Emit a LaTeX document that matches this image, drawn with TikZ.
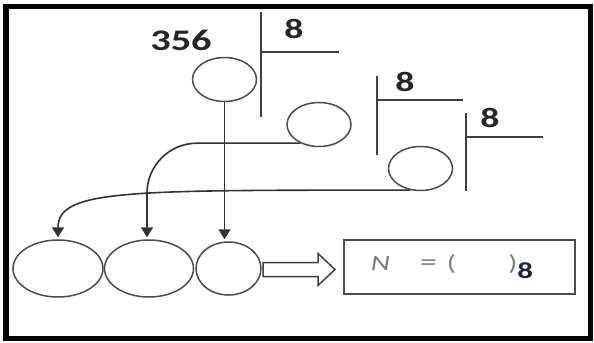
\documentclass[tikz,border=0pt]{standalone}
\usepackage{fontspec}
\usetikzlibrary{arrows.meta,positioning,shapes.geometric}
\newfontfamily\numfont{Carlito}[FakeStretch=1.35]
\definecolor{eqgrey}{HTML}{7A7A7A}
\definecolor{eqnavy}{HTML}{1F2633}

\begin{document}
\begin{tikzpicture}[x=1bp,y=1bp,shorten >=2pt,>={Triangle[length=10bp,width=12bp]},
        rest/.style={ellipse,draw=black!70,line width=1.5bp,minimum width=64bp,minimum height=44bp,inner sep=0pt},
        digit/.style={ellipse,draw=black!70,line width=1.5bp,minimum height=57bp,inner sep=0pt},
        num/.style={font=\numfont\bfseries\fontsize{30}{32}\selectfont,text=black!85,inner sep=0pt},
        base/.style={num,font=\numfont\bfseries\fontsize{28}{30}\selectfont},
        bar/.style={draw=black!75,line width=1.8bp},
        flow/.style={draw=black!80,line width=1.6bp,->}]

        \useasboundingbox (0,0) rectangle (594,-342);
        \draw[line width=5.5bp] (6,-6.5) rectangle (590.5,-338.5);

        % dividend, bases and remainders
        \node[num]   (N0) at (181,-40)      {356};
        \node[base]  (B1) at (294,-28.5)    {8};
        \node[base]  (B2) at (405,-82)      {8};
        \node[base]  (B3) at (490,-117.5)   {8};

        \node[rest]  (R1) at (224.5,-79.5)  { };
        \node[rest]  (R2) at (319,-124.5)   { };
        \node[rest]  (R3) at (420.5,-168.5) { };

        \foreach \x/\t/\b/\h/\r in {260.7/12/117/52/341, 377/76/155/100/465, 466/113/191/137/545}
                \draw[bar] (\x,-\t) -- (\x,-\b) (\x,-\h) -- (\r,-\h);

        % digits of the result
        \node[digit,minimum width=90bp] (E1) at (58,-268.5)     { };
        \node[digit,minimum width=89bp] (E2) [right=0pt of E1]  { };
        \node[digit,minimum width=65bp,minimum height=53bp] (E3) [right=1pt of E2] { };

        \draw[flow] (R1.south) -- (R1.south |- E3.north);
        \draw[flow,rounded corners=50bp] (R2.225) -| ([xshift=-2bp]E2.north);
        \draw[flow] (R3.245) .. controls +(-283,0) and +(0,50) .. (E1.north);

        \draw[draw=black!75,line width=1.5bp] (263,-262.5) -- (318,-262.5) -- (318,-253.5) -- (335,-269.5)
                -- (318,-285.5) -- (318,-276.5) -- (263,-276.5) -- cycle;

        \node[draw=black!70,line width=2bp,minimum width=231bp,minimum height=53.5bp,
              font=\numfont\fontsize{22}{24}\selectfont] (Res) at (459.5,-266.75)
              {{\color{eqgrey}\textit{N}\hspace{30bp}{\fontsize{25}{26}\selectfont=}\hspace{10bp}(\hspace{52.7bp})}%
               \raisebox{-8bp}{\fontsize{23}{24}\selectfont\bfseries\color{eqnavy}8}\hspace*{15bp}};
\end{tikzpicture}
\end{document}
